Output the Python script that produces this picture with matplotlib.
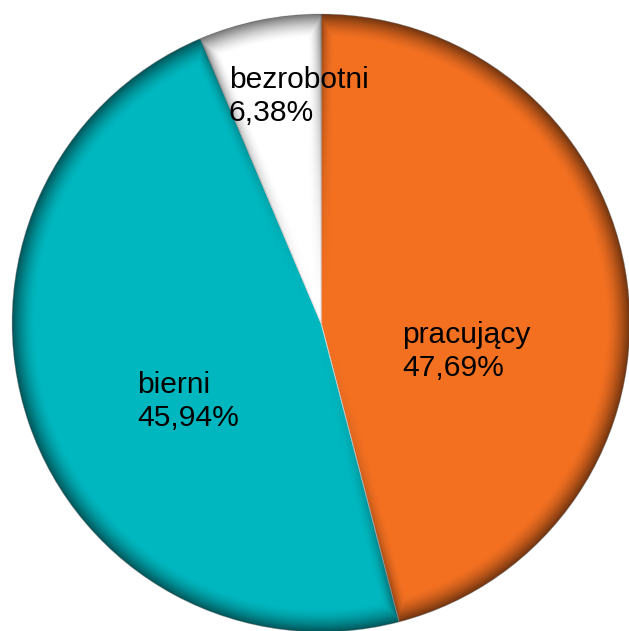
import numpy as np
import matplotlib
matplotlib.use('Agg')
import matplotlib.pyplot as plt

labels = ['pracujący', 'bierni', 'bezrobotni']
# slice sizes as drawn in the reference picture
slice_values = [45.94, 47.69, 6.38]
# percentage texts as printed in the reference picture
value_texts = ['47,69%', '45,94%', '6,38%']
colors = ['#F37021', '#00B7BF', '#FFFFFF']

W, H = 629, 631
fig = plt.figure(figsize=(6.29, 6.31), dpi=100)
ax = fig.add_axes([0, 0, 1, 1])
cx, cy, R = 321, H - 323, 309

wedges, _ = ax.pie(slice_values, colors=colors, startangle=90, counterclock=False,
                   center=(cx, cy), radius=R, frame=True,
                   wedgeprops=dict(linewidth=0.6, edgecolor='#d8d8d8'))
ax.set_xlim(0, W)
ax.set_ylim(0, H)
ax.set_aspect('equal')
ax.axis('off')

# bevel shading
xs = np.arange(W) + 0.5
ys = np.arange(H) + 0.5
X, Y = np.meshgrid(xs, ys)
dx, dy = X - cx, Y - cy
r = np.hypot(dx, dy)
rim = R - r
wrim = 24.0
rim_d = np.clip(1 - rim / wrim, 0, 1) ** 1.6

for w in wedges:
    d = rim_d * 0.55
    for ang in (w.theta1, w.theta2):
        a = np.deg2rad(ang)
        perp = np.abs(dx * np.sin(a) - dy * np.cos(a))
        side = np.clip(1 - perp / 14.0, 0, 1) ** 2 * (r / R) ** 1.5
        d = np.maximum(d, side * 0.45)
    img = np.zeros((H, W, 4))
    img[..., 3] = d
    im = ax.imshow(img, extent=(0, W, 0, H), origin='lower',
                   interpolation='bilinear', zorder=2)
    im.set_clip_path(w)

font = dict(family=['Liberation Sans', 'DejaVu Sans'], fontsize=21.6, color='black',
            ha='left', va='baseline', zorder=5)
pos = [(402, 343), (137, 393), (229, 88)]
for lab, vt, (px, py) in zip(labels, value_texts, pos):
    ax.text(px, H - py, lab, **font)
    ax.text(px, H - py - 33, vt, **font)

fig.savefig('out.png', dpi=100)
